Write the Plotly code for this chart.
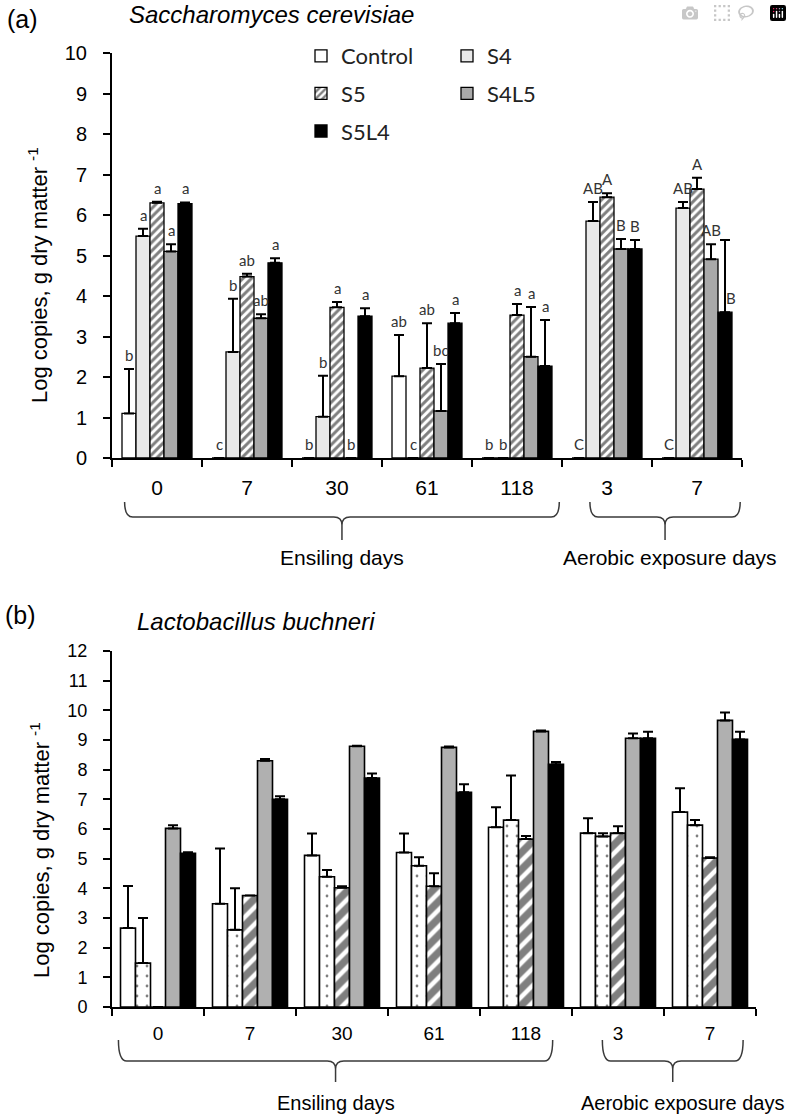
import plotly.graph_objects as go

# ---------------- data ----------------
days = ["0", "7", "30", "61", "118", "3", "7"]
treatments = ["Control", "S4", "S5", "S4L5", "S5L4"]

# Panel (a) Saccharomyces cerevisiae, log copies / g DM
sc_control = [1.10, 0.00, 0.00, 2.02, 0.00, 0.00, 0.00]
sc_s4 = [5.48, 2.62, 1.02, 0.00, 0.00, 5.85, 6.17]
sc_s5 = [6.30, 4.48, 3.72, 2.22, 3.53, 6.44, 6.64]
sc_s4l5 = [5.10, 3.45, 0.00, 1.16, 2.50, 5.16, 4.91]
sc_s5l4 = [6.28, 4.82, 3.50, 3.33, 2.27, 5.16, 3.60]

sc_control_se = [1.10, 0.00, 0.00, 1.02, 0.00, 0.00, 0.00]
sc_s4_se = [0.18, 1.31, 1.01, 0.00, 0.00, 0.47, 0.15]
sc_s5_se = [0.03, 0.07, 0.13, 1.11, 0.27, 0.10, 0.28]
sc_s4l5_se = [0.18, 0.10, 0.00, 1.16, 1.23, 0.25, 0.37]
sc_s5l4_se = [0.03, 0.11, 0.20, 0.25, 1.14, 0.22, 1.78]

sc_control_lbl = ["b", "c", "b", "ab", "b", "C", "C"]
sc_s4_lbl = ["a", "b", "b", "c", "b", "AB", "AB"]
sc_s5_lbl = ["a", "ab", "a", "ab", "a", "A", "A"]
sc_s4l5_lbl = ["a", "ab", "b", "bc", "a", "B", "AB"]
sc_s5l4_lbl = ["a", "a", "a", "a", "a", "B", "B"]

# Panel (b) Lactobacillus buchneri, log copies / g DM
lb_control = [2.66, 3.48, 5.11, 5.21, 6.06, 5.86, 6.57]
lb_s4 = [1.48, 2.60, 4.39, 4.76, 6.30, 5.75, 6.13]
lb_s5 = [0.00, 3.76, 4.02, 4.07, 5.66, 5.86, 5.02]
lb_s4l5 = [6.02, 8.30, 8.79, 8.75, 9.29, 9.06, 9.66]
lb_s5l4 = [5.18, 7.00, 7.72, 7.24, 8.18, 9.06, 9.02]

lb_control_se = [1.42, 1.86, 0.74, 0.64, 0.67, 0.50, 0.80]
lb_s4_se = [1.52, 1.40, 0.23, 0.29, 1.50, 0.11, 0.17]
lb_s5_se = [0.00, 0.00, 0.05, 0.44, 0.10, 0.23, 0.03]
lb_s4l5_se = [0.11, 0.06, 0.02, 0.03, 0.03, 0.16, 0.27]
lb_s5l4_se = [0.04, 0.10, 0.15, 0.27, 0.08, 0.22, 0.26]

# ---------------- styling ----------------
W, H = 792, 1117
SANS = "Liberation Sans, Arial, sans-serif"
CAL = "Lato, Open Sans, sans-serif"


def px_x(p):
    return p / W


def px_y(p):
    return 1 - p / H


xa_dom = [px_x(112), px_x(742)]
ya_dom = [px_y(458), px_y(53)]
xb_dom = [px_x(112), px_x(756)]
yb_dom = [px_y(1007), px_y(651)]

wa = 14 / 90.0   # bar width panel a (category units)
wb = 15 / 92.0   # bar width panel b

styles_a = [
    dict(color="white", pattern=None),
    dict(color="white", pattern=dict(shape=".", size=2, solidity=0.5, fgcolor="#9a9a9a", bgcolor="white")),
    dict(color="white", pattern=dict(shape="/", size=6, solidity=0.5, fgcolor="black", bgcolor="white")),
    dict(color="#a9a9a9", pattern=None),
    dict(color="black", pattern=None),
]
styles_b = [
    dict(color="white", pattern=None),
    dict(color="white", pattern=dict(shape=".", size=10, solidity=0.06, fgcolor="black", bgcolor="white")),
    dict(color="white", pattern=dict(shape="/", size=12, solidity=0.62, fgcolor="black", bgcolor="white")),
    dict(color="#b0b0b0", pattern=None),
    dict(color="black", pattern=None),
]

series_a = [sc_control, sc_s4, sc_s5, sc_s4l5, sc_s5l4]
se_a = [sc_control_se, sc_s4_se, sc_s5_se, sc_s4l5_se, sc_s5l4_se]
lbl_a = [sc_control_lbl, sc_s4_lbl, sc_s5_lbl, sc_s4l5_lbl, sc_s5l4_lbl]
series_b = [lb_control, lb_s4, lb_s5, lb_s4l5, lb_s5l4]
se_b = [lb_control_se, lb_s4_se, lb_s5_se, lb_s4l5_se, lb_s5l4_se]

legend_of = ["legend", "legend2", "legend", "legend2", "legend"]

x_idx = list(range(len(days)))

fig = go.Figure()


def marker_for(st, lw):
    m = dict(color=st["color"], line=dict(color="black", width=lw))
    if st["pattern"] is not None:
        m["pattern"] = st["pattern"]
    return m


for j, name in enumerate(treatments):
    fig.add_trace(go.Bar(
        x=x_idx, y=series_a[j], name=name,
        width=wa, offset=(j - 2.5) * wa,
        marker=marker_for(styles_a[j], 1.3),
        error_y=dict(type="data", array=se_a[j], arrayminus=[0] * len(days), symmetric=False,
                     color="black", thickness=2, width=5),
        xaxis="x", yaxis="y", legend=legend_of[j], legendgroup=name, showlegend=True,
    ))

for j, name in enumerate(treatments):
    fig.add_trace(go.Bar(
        x=x_idx, y=series_b[j], name=name,
        width=wb, offset=(j - 2.5) * wb,
        marker=marker_for(styles_b[j], 1.6),
        error_y=dict(type="data", array=se_b[j], arrayminus=[0] * len(days), symmetric=False,
                     color="black", thickness=2, width=5),
        xaxis="x2", yaxis="y2", showlegend=False, legendgroup=name + "_b",
    ))

annotations = []

# significance letters (panel a)
for j in range(len(treatments)):
    for i in x_idx:
        v = series_a[j][i]
        top = v + se_a[j][i]
        xs, ys = 0, 3
        y = top
        if j == 4 and i == 6:  # letter shifted beside the bar in the original
            y = v
            xs = 6
        annotations.append(dict(
            x=i + (j - 2) * wa, y=y, xref="x", yref="y", text=lbl_a[j][i],
            showarrow=False, yanchor="bottom", xanchor="center", xshift=xs, yshift=ys,
            font=dict(family=CAL, size=15, color="#333333"),
        ))


def txt(x, y, text, size, angle=0, xref="paper", family=SANS):
    return dict(x=x, y=y, xref=xref, yref="paper", text=text, showarrow=False,
                xanchor="center", yanchor="middle", textangle=angle,
                font=dict(family=family, size=size, color="black"))


# panel labels and titles
annotations += [
    txt(px_x(22), px_y(19), "(a)", 25),
    txt(px_x(271), px_y(14), "<i>Saccharomyces cerevisiae</i>", 24),
    txt(px_x(20), px_y(615), "(b)", 25),
    txt(px_x(256), px_y(621), "<i>Lactobacillus buchneri</i>", 24),
    txt(px_x(38), px_y(275), "Log copies, g dry matter <sup>-1</sup>", 22, angle=-90),
    txt(px_x(40), px_y(850), "Log copies, g dry matter <sup>-1</sup>", 22, angle=-90),
]

shapes = []


def brace(xref, xl, xr, ytop, yh, yb, dx, dyp, label, ylabel, fs, xlabel=None):
    xm = (xl + xr) / 2.0
    path = (f"M {xl},{ytop} Q {xl},{yh} {xl + dx},{yh} L {xm - dx},{yh} "
            f"Q {xm},{yh} {xm},{yh - dyp} L {xm},{yb} "
            f"M {xm},{yh - dyp} Q {xm},{yh} {xm + dx},{yh} L {xr - dx},{yh} "
            f"Q {xr},{yh} {xr},{ytop}")
    shapes.append(dict(type="path", xref=xref, yref="paper", path=path,
                       line=dict(color="#3a3a3a", width=1.5)))
    annotations.append(txt(xm if xlabel is None else xlabel, ylabel, label, fs, xref=xref))


# panel (a) braces
dya = 8 / H
brace("x", -0.36, 4.47, px_y(502), px_y(517), px_y(540), 0.09, dya, "Ensiling days", px_y(557), 21)
brace("x", 4.81, 6.48, px_y(502), px_y(517), px_y(540), 0.09, dya, "Aerobic exposure days", px_y(557), 21,
      xlabel=5.70)
# panel (b) braces
brace("x2", -0.43, 4.29, px_y(1040), px_y(1061), px_y(1082), 0.09, dya, "Ensiling days", px_y(1103), 20)
brace("x2", 4.83, 6.36, px_y(1040), px_y(1061), px_y(1082), 0.09, dya, "Aerobic exposure days", px_y(1103), 20,
      xlabel=5.70)

xaxis_common = dict(
    range=[-0.5, 6.5], tickmode="array", tickvals=x_idx, ticktext=days, ticks="",
    showline=True, linecolor="black", linewidth=2, showgrid=False, zeroline=False,
    minor=dict(tickmode="linear", tick0=-0.5, dtick=1, ticks="outside", ticklen=7,
               tickwidth=2, tickcolor="black", showgrid=False),
    fixedrange=True, automargin=False,
)
yaxis_common = dict(
    tickmode="linear", tick0=0, dtick=1, ticks="outside", ticklen=7, tickwidth=2,
    tickcolor="black", showline=True, linecolor="black", linewidth=2,
    showgrid=False, zeroline=False, fixedrange=True, automargin=False,
)

fig.update_layout(
    width=W, height=H, margin=dict(l=0, r=0, t=0, b=0, autoexpand=False),
    paper_bgcolor="white", plot_bgcolor="white",
    barmode="overlay",
    xaxis=dict(domain=xa_dom, anchor="y", tickfont=dict(family=SANS, size=21, color="black"),
               ticklabelstandoff=10, **xaxis_common),
    yaxis=dict(domain=ya_dom, anchor="x", range=[0, 10],
               tickfont=dict(family=SANS, size=20, color="black"), ticklabelstandoff=12, **yaxis_common),
    xaxis2=dict(domain=xb_dom, anchor="y2", tickfont=dict(family=SANS, size=19, color="black"),
                ticklabelstandoff=8, **xaxis_common),
    yaxis2=dict(domain=yb_dom, anchor="x2", range=[0, 12],
                tickfont=dict(family=SANS, size=18, color="black"), ticklabelstandoff=12, **yaxis_common),
    legend=dict(x=px_x(301), y=px_y(35), xanchor="left", yanchor="top",
                font=dict(family=CAL, size=22, color="#222222"), tracegroupgap=6,
                bgcolor="rgba(0,0,0,0)", traceorder="grouped"),
    legend2=dict(x=px_x(447), y=px_y(35), xanchor="left", yanchor="top",
                 font=dict(family=CAL, size=22, color="#222222"), tracegroupgap=6,
                 bgcolor="rgba(0,0,0,0)", traceorder="grouped"),
    annotations=annotations,
    shapes=shapes,
)

fig.write_html("out.html", post_script="document.body.style.margin='0';")
